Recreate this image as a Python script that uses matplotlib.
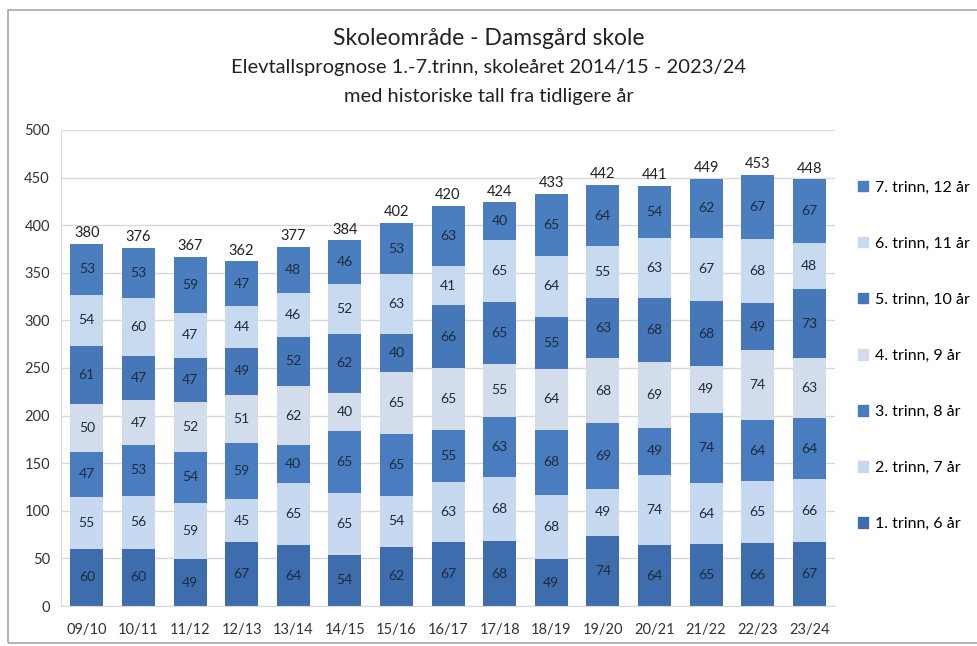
import matplotlib.pyplot as plt
import matplotlib.patches as mpatches
import numpy as np

plt.rcParams['font.family'] = ['Lato', 'DejaVu Sans']

years = ['09/10', '10/11', '11/12', '12/13', '13/14', '14/15', '15/16', '16/17',
         '17/18', '18/19', '19/20', '20/21', '21/22', '22/23', '23/24']

trinn1 = [60, 60, 49, 67, 64, 54, 62, 67, 68, 49, 74, 64, 65, 66, 67]
trinn2 = [55, 56, 59, 45, 65, 65, 54, 63, 68, 68, 49, 74, 64, 65, 66]
trinn3 = [47, 53, 54, 59, 40, 65, 65, 55, 63, 68, 69, 49, 74, 64, 64]
trinn4 = [50, 47, 52, 51, 62, 40, 65, 65, 55, 64, 68, 69, 49, 74, 63]
trinn5 = [61, 47, 47, 49, 52, 62, 40, 66, 65, 55, 63, 68, 68, 49, 73]
trinn6 = [54, 60, 47, 44, 46, 52, 63, 41, 65, 64, 55, 63, 67, 68, 48]
trinn7 = [53, 53, 59, 47, 48, 46, 53, 63, 40, 65, 64, 54, 62, 67, 67]

labels = ['1. trinn, 6 år', '2. trinn, 7 år', '3. trinn, 8 år', '4. trinn, 9 år',
          '5. trinn, 10 år', '6. trinn, 11 år', '7. trinn, 12 år']
colors = ['#3E6DAE', '#C6D9F0', '#4A7DC0', '#D3DCEB', '#4677B8', '#C8DAF0', '#4A7EBE']

series = [trinn1, trinn2, trinn3, trinn4, trinn5, trinn6, trinn7]

fig = plt.figure(figsize=(9.78, 6.46), dpi=100)
ax = fig.add_axes([0.0624, 0.0619, 0.7914, 0.7369])

# outer frame like the spreadsheet chart area
frame = mpatches.Rectangle((0.008, 0.005), 1.2, 0.98, transform=fig.transFigure,
                           fill=False, edgecolor='#A6A6A6', lw=1.2)
fig.patches.append(frame)

x = np.arange(len(years))
bottom = np.zeros(len(years))
for vals, col, lab in zip(series, colors, labels):
    ax.bar(x, vals, 0.64, bottom=bottom, color=col, label=lab, zorder=2)
    for xi, v, b0 in zip(x, vals, bottom):
        ax.text(xi, b0 + v / 2, str(v), ha='center', va='center',
                fontsize=10, color='#1F2A3A', zorder=3)
    bottom = bottom + np.array(vals)

for xi, tot in zip(x, bottom):
    ax.text(xi, tot + 4, str(int(tot)), ha='center', va='bottom',
            fontsize=10.5, color='#222222')

ax.set_xlim(-0.5, len(years) - 0.5)
ax.set_ylim(0, 500)
ax.set_yticks(np.arange(0, 501, 50))
ax.set_xticks(x)
ax.set_xticklabels(years)
ax.tick_params(axis='both', labelsize=10.5, colors='#333333', length=0)
ax.tick_params(axis='x', pad=12)
ax.tick_params(axis='y', pad=8)
ax.grid(axis='y', color='#D9D9D9', lw=1, zorder=0)
for s in ['top', 'right']:
    ax.spines[s].set_visible(False)
for s in ['left', 'bottom']:
    ax.spines[s].set_color('#D9D9D9')

handles = [mpatches.Patch(color=c) for c in colors][::-1]
fig.legend(handles, labels[::-1], loc='upper left', bbox_to_anchor=(0.863, 0.742),
           frameon=False, fontsize=11.5, labelspacing=2.63, handlelength=0.6,
           handleheight=0.6, handletextpad=0.45)

fig.text(0.5, 0.941, 'Skoleområde - Damsgård skole', ha='center', va='center',
         fontsize=16.5, color='#222222')
fig.text(0.5, 0.895, 'Elevtallsprognose 1.-7.trinn, skoleåret 2014/15 - 2023/24',
         ha='center', va='center', fontsize=14.5, color='#222222')
fig.text(0.5, 0.850, 'med historiske tall fra tidligere år', ha='center', va='center',
         fontsize=14.5, color='#222222')

fig.savefig('out.png', dpi=100)
